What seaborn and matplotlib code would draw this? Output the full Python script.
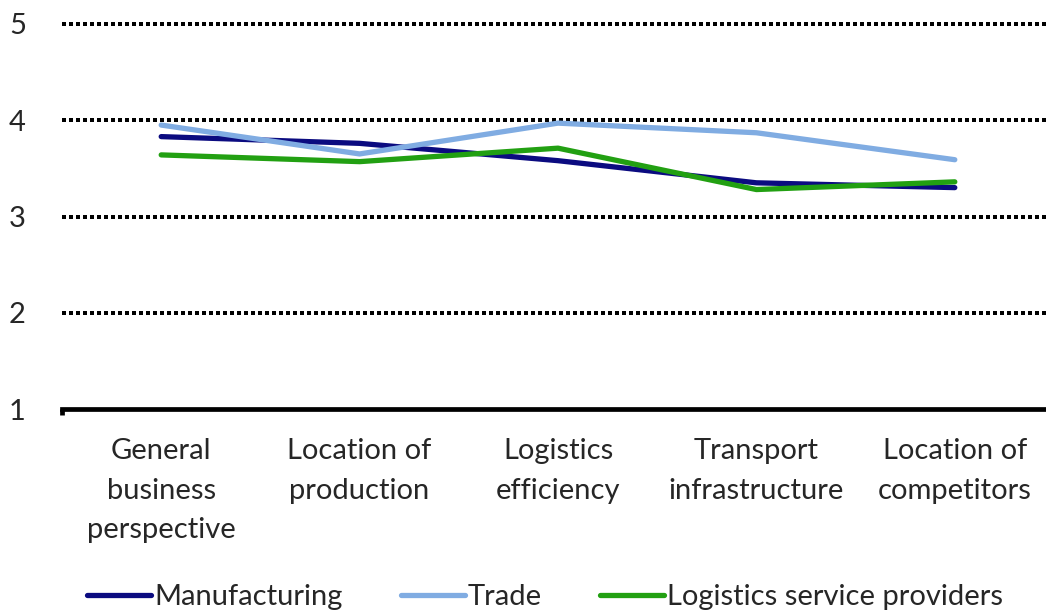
import matplotlib
matplotlib.use("Agg")
import matplotlib.pyplot as plt
import seaborn as sns
import pandas as pd

categories = ["General\nbusiness\nperspective", "Location of\nproduction", "Logistics\nefficiency",
              "Transport\ninfrastructure", "Location of\ncompetitors"]
manufacturing = [3.83, 3.76, 3.58, 3.35, 3.30]
trade = [3.95, 3.65, 3.97, 3.87, 3.59]
logistics = [3.64, 3.57, 3.71, 3.28, 3.36]
series_names = ["Manufacturing", "Trade", "Logistics service providers"]
colors = ["#0b0b80", "#80ace2", "#22a012"]
y_ticks = [1, 2, 3, 4, 5]

sns.set_theme(style="white")
plt.rcParams['font.family'] = ['Lato', 'DejaVu Sans']

rows = []
for name, vals in zip(series_names, [manufacturing, trade, logistics]):
    for c, v in zip(categories, vals):
        rows.append({"category": c, "value": v, "series": name})
df = pd.DataFrame(rows)

fig = plt.figure(figsize=(10.46, 6.13), dpi=100)
ax = fig.add_axes([62/1046, 1 - 409/613, (1054 - 62)/1046, (409 - 24)/613])

for y in y_ticks[1:]:
    ax.axhline(y, color="black", linewidth=2.6, linestyle=(0, (1, 1.1)), zorder=0,
               antialiased=False, clip_on=False)

sns.lineplot(data=df, x="category", y="value", hue="series", palette=colors,
             hue_order=series_names, linewidth=3.8, ax=ax, sort=False)

ax.set_xlim(-0.5, 4.5)
ax.set_ylim(1, 5)
ax.set_yticks(y_ticks)
ax.set_yticklabels([str(t) for t in y_ticks], fontsize=21)
ax.set_xticks(range(len(categories)))
ax.set_xticklabels(categories, fontsize=21, linespacing=1.65)
ax.tick_params(axis="x", length=0, pad=21)
ax.tick_params(axis="y", length=0, pad=26)
for s in ["top", "right", "left"]:
    ax.spines[s].set_visible(False)
ax.spines["bottom"].set_linewidth(3.4)
ax.spines["bottom"].set_color("black")
ax.plot([-0.5, -0.5], [1, 0.94], color="black", linewidth=3.4, clip_on=False, solid_capstyle="butt")
ax.set_xlabel("")
ax.set_ylabel("")

handles, labels = ax.get_legend_handles_labels()
ax.legend_.remove()
fig.legend(handles, labels, loc="center", bbox_to_anchor=(545/1046, 1 - 597/613), ncol=3,
           frameon=False, fontsize=21, handlelength=2.2, handletextpad=0.1, columnspacing=2.0)

fig.savefig("out.png", dpi=100)
